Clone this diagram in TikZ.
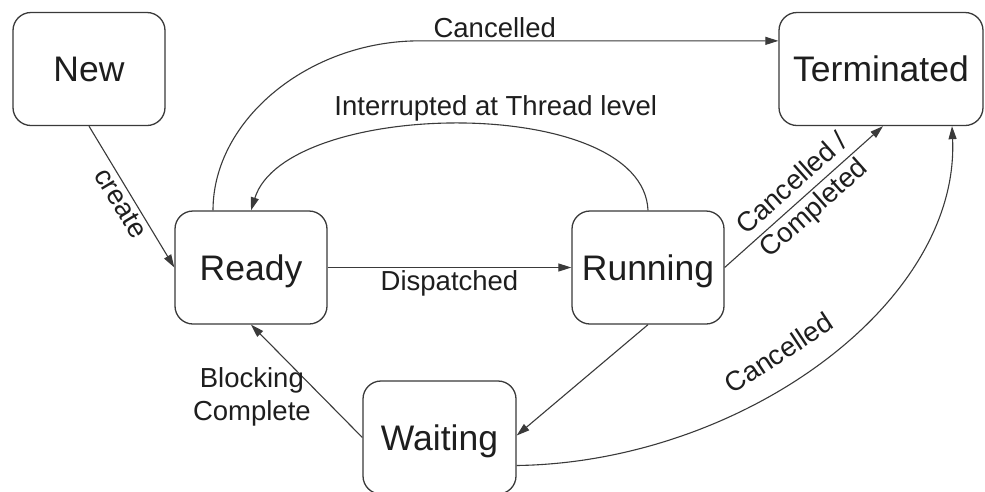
\documentclass[tikz,border=0pt]{standalone}
\usepackage{fontspec}
\setmainfont{Liberation Sans}
\usetikzlibrary{arrows.meta,calc}
\definecolor{linegray}{HTML}{3A3A3A}
\definecolor{textgray}{HTML}{1E1E1E}
\begin{document}
\begin{tikzpicture}[x=1pt,y=-1pt,
  state/.style={draw=linegray, line width=1.3pt, rounded corners=18pt,
    minimum width=152pt, minimum height=113pt, inner sep=0pt, text=textgray,
    font=\fontsize{35.5}{42}\selectfont, text height=25pt, text depth=0pt},
  trans/.style={draw=linegray, line width=1.1pt, -{Triangle[length=13pt,width=8pt]}},
  lbl/.style={text=textgray, font=\fontsize{27.5}{33}\selectfont, inner sep=3pt}
]
% canvas
\fill[white] (0,0) rectangle (985,491);
\useasboundingbox (0,0) rectangle (985,491);

% thread states
\node[state] (new) at (89,69) {New};
\node[state, minimum width=204pt] (term) at (881,69) {Terminated};
\node[state] (ready) at (251,267.5) {Ready};
\node[state] (run) at (648,267.5) {Running};
\node[state, minimum width=153pt] (wait) at (439.5,437.5) {Waiting};

% transitions
\draw[trans] (new.south) -- (ready.west)
  node[lbl, sloped, below, midway] {create};

\coordinate (cbend) at ($(term.north west)+(-359,29)$);
\draw[trans] ($(ready.north)+(-38,0)$) .. controls +(0,-91) and +(-110,0) .. (cbend)
  -- ($(term.north west)+(0,29)$)
  node[lbl, above, pos=0.21] {Cancelled};

\draw[trans] (run.north) .. controls +(-5,-117) and +(35,-112) .. (ready.north)
  node[lbl, above, pos=0.5, xshift=35pt] {Interrupted at Thread level};

\draw[trans] (ready.east) -- (run.west)
  node[lbl, below, midway] {Dispatched};

\draw[trans] (run.east) -- ($(term.south)+(2,0)$)
  node[lbl, sloped, midway, align=center] {Cancelled /\\Completed};

\draw[trans] (run.south) -- ($(wait.east)+(0,-2)$);

\draw[trans] (wait.west) -- (ready.south)
  node[lbl, pos=0.36, left=8pt, align=center] {Blocking\\Complete};

\draw[trans] ($(wait.east)+(0,28)$) .. controls +(224,-3) and +(8,178) .. ($(term.south)+(71,0)$)
  node[lbl, sloped, above=18pt, pos=0.45] {Cancelled};
\end{tikzpicture}
\end{document}
